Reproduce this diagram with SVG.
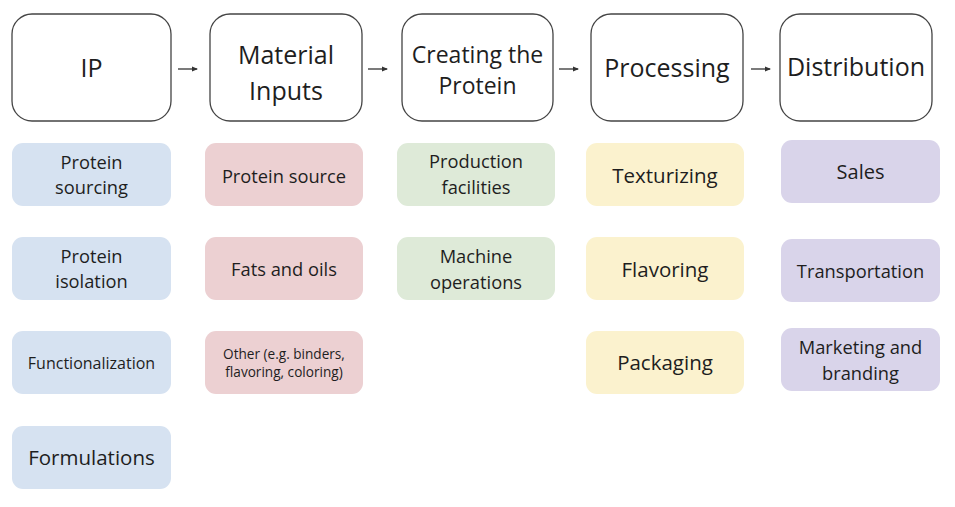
<svg xmlns="http://www.w3.org/2000/svg" width="955" height="507" viewBox="0 0 955 507">
<defs>
<style>
text{font-family:"Open Sans","Noto Sans",sans-serif;fill:#1e1e1e;text-anchor:middle}
.hd{fill:#fff;stroke:#444;stroke-width:1.3}
.h{font-size:25px}
.s{font-size:18.3px}
.b{fill:#d6e2f1}.r{fill:#ecd0d2}.g{fill:#deead8}.y{fill:#fbf2ce}.p{fill:#d9d4ea}
.c{stroke:#333;stroke-width:1.3;fill:none}
</style>
<marker id="ah" viewBox="0 0 6 6" refX="5" refY="3" markerWidth="6" markerHeight="6" markerUnits="userSpaceOnUse" orient="auto"><path d="M0,0.5 L6,3 L0,5.5 Z" fill="#333"/></marker>
</defs>
<rect width="955" height="507" fill="#fff"/>
<g id="connectors">
<line class="c" x1="178" y1="69" x2="197" y2="69" marker-end="url(#ah)"/>
<line class="c" x1="368" y1="69" x2="387" y2="69" marker-end="url(#ah)"/>
<line class="c" x1="559" y1="69" x2="578" y2="69" marker-end="url(#ah)"/>
<line class="c" x1="751" y1="69" x2="770" y2="69" marker-end="url(#ah)"/>
</g>
<g id="ip"><rect class="hd" x="12" y="14" width="159" height="107" rx="20"/><text class="h" x="91.5" y="77">IP</text></g>
<g id="material-inputs"><rect class="hd" x="210" y="14" width="152" height="107" rx="20"/><text class="h" x="286" y="64">Material</text><text class="h" x="286" y="100">Inputs</text></g>
<g id="creating-protein"><rect class="hd" x="402" y="14" width="151" height="107" rx="20"/><text x="477.5" y="63" font-size="23">Creating the</text><text x="477.5" y="94" font-size="23">Protein</text></g>
<g id="processing"><rect class="hd" x="591" y="14" width="152" height="107" rx="20"/><text class="h" x="667" y="77">Processing</text></g>
<g id="distribution"><rect class="hd" x="780" y="14" width="152" height="107" rx="20"/><text class="h" x="856" y="76">Distribution</text></g>

<g id="protein-sourcing"><rect class="b" x="12" y="143" width="159" height="63" rx="11"/><text class="s" x="91.5" y="169">Protein</text><text class="s" x="91.5" y="194">sourcing</text></g>
<g id="protein-isolation"><rect class="b" x="12" y="237" width="159" height="63" rx="11"/><text class="s" x="91.5" y="263">Protein</text><text class="s" x="91.5" y="288">isolation</text></g>
<g id="functionalization"><rect class="b" x="12" y="331" width="159" height="63" rx="11"/><text x="91.5" y="369" font-size="16px">Functionalization</text></g>
<g id="formulations"><rect class="b" x="12" y="426" width="159" height="63" rx="11"/><text x="91.5" y="465" font-size="20.5px">Formulations</text></g>

<g id="protein-source"><rect class="r" x="205" y="143" width="158" height="63" rx="11"/><text class="s" x="284" y="183">Protein source</text></g>
<g id="fats-oils"><rect class="r" x="205" y="237" width="158" height="63" rx="11"/><text class="s" x="284" y="276">Fats and oils</text></g>
<g id="other"><rect class="r" x="205" y="331" width="158" height="63" rx="11"/><text x="284" y="359" font-size="13.6px">Other (e.g. binders,</text><text x="284" y="377" font-size="13.6px">flavoring, coloring)</text></g>

<g id="production-facilities"><rect class="g" x="397" y="143" width="158" height="63" rx="11"/><text class="s" x="476" y="168">Production</text><text class="s" x="476" y="194">facilities</text></g>
<g id="machine-operations"><rect class="g" x="397" y="237" width="158" height="63" rx="11"/><text class="s" x="476" y="263">Machine</text><text class="s" x="476" y="289">operations</text></g>

<g id="texturizing"><rect class="y" x="586" y="143" width="158" height="63" rx="11"/><text x="665" y="183" font-size="20.5px">Texturizing</text></g>
<g id="flavoring"><rect class="y" x="586" y="237" width="158" height="63" rx="11"/><text x="665" y="277" font-size="20.5px">Flavoring</text></g>
<g id="packaging"><rect class="y" x="586" y="331" width="158" height="63" rx="11"/><text x="665" y="370" font-size="20.5px">Packaging</text></g>

<g id="sales"><rect class="p" x="781" y="140" width="159" height="63" rx="11"/><text x="860.5" y="179" font-size="20px">Sales</text></g>
<g id="transportation"><rect class="p" x="781" y="239" width="159" height="63" rx="11"/><text class="s" x="860.5" y="278">Transportation</text></g>
<g id="marketing-branding"><rect class="p" x="781" y="328" width="159" height="63" rx="11"/><text class="s" x="860.5" y="354">Marketing and</text><text class="s" x="860.5" y="380">branding</text></g>
</svg>
